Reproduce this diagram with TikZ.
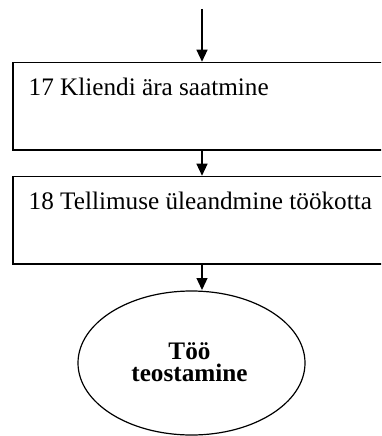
\documentclass[tikz,border=0pt]{standalone}
\usepackage{fontspec}
\setmainfont{Liberation Serif}
\usetikzlibrary{arrows.meta,shapes.geometric}
\begin{document}
\begin{tikzpicture}[x=1pt,y=-1pt,
  flow/.style={line width=1.3pt,-{Triangle[width=11pt,length=12pt]}},
  stepbox/.style={draw,line width=1.2pt,rectangle,anchor=north west,
    minimum width=400pt,minimum height=87.6pt,inner sep=0pt},
  steptext/.style={anchor=base west,inner sep=0pt,font=\fontsize{25.2}{30}\selectfont},
  endstate/.style={draw,line width=1.2pt,ellipse,minimum width=227pt,
    minimum height=144pt,inner sep=0pt},
  endtext/.style={inner sep=0pt,align=center,
    font=\fontsize{25.2}{21.7}\selectfont\bfseries}]
  \clip (0,0) rectangle (381,436);
  \fill[white] (0,0) rectangle (381,436);
  % process steps
  \node[stepbox] (b1) at (12.3,61.7) {};
  \node[steptext] (t1) at (28.5,95) {17 Kliendi ära saatmine};
  \node[stepbox] (b2) at (12.3,175.7) {};
  \node[steptext] (t2) at (28.5,209) {18 Tellimuse üleandmine töökotta};
  % final state
  \node[endstate] (e) at (191.5,363) {};
  \node[endtext] (et) at (189.5,362) {Töö\\teostamine};
  % flow line
  \coordinate (ax) at (202,0);
  \coordinate (top) at (202,9);
  \draw[flow] (top) -- (b1.north -| ax);
  \draw[flow] (b1.south -| ax) -- (b2.north -| ax);
  \draw[flow] (b2.south -| ax) -- ([yshift=0.4pt]e.north -| ax);
\end{tikzpicture}
\end{document}
